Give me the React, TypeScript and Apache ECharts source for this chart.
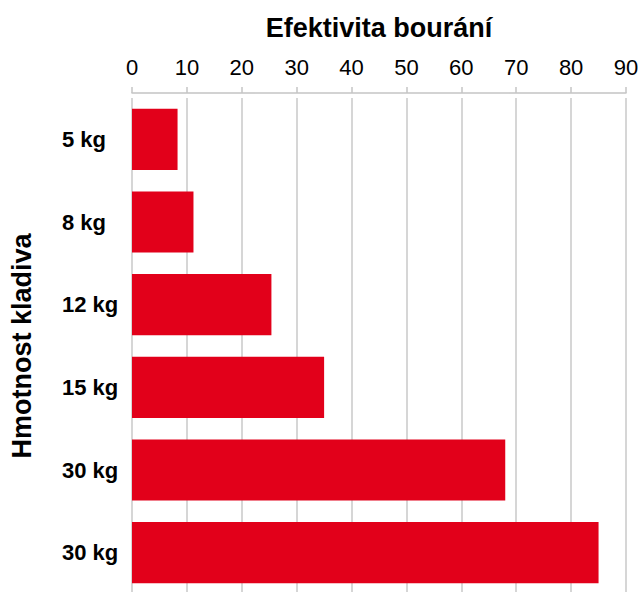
import React, { useEffect, useRef } from "react";
import * as echarts from "echarts";

const categories = ["5 kg", "8 kg", "12 kg", "15 kg", "30 kg", "30 kg"];
const values = [8.3, 11.2, 25.4, 35, 68, 85];
const xTitle = "Efektivita bourání";
const yTitle = "Hmotnost kladiva";

export default function App() {
  const ref = useRef<HTMLDivElement>(null);
  useEffect(() => {
    if (!ref.current) return;
    const chart = echarts.init(ref.current, undefined, { renderer: "svg" });
    const font = "'Liberation Sans', Arial, Helvetica, sans-serif";
    chart.setOption({
      animation: false,
      backgroundColor: "#ffffff",
      grid: {
        left: 132,
        right: 15,
        top: 98,
        height: 496,
        containLabel: false,
        outerBoundsMode: "none",
      },
      xAxis: {
        type: "value",
        position: "top",
        offset: 5,
        min: 0,
        max: 90,
        interval: 10,
        name: xTitle,
        nameLocation: "middle",
        nameGap: 52,
        nameTextStyle: { fontFamily: font, fontWeight: "bold", fontSize: 27, color: "#000" },
        axisLine: { show: true, lineStyle: { color: "#c4c4c4", width: 1.5 } },
        axisTick: { show: true, length: 6, lineStyle: { color: "#c4c4c4", width: 1.5 } },
        axisLabel: { margin: 15, fontFamily: font, fontSize: 22, color: "#000" },
        splitLine: { show: true, lineStyle: { color: "#c8c8c8", width: 1.5 } },
      },
      yAxis: {
        type: "category",
        inverse: true,
        data: categories,
        name: yTitle,
        nameLocation: "middle",
        nameRotate: 90,
        nameGap: 97,
        nameTextStyle: { fontFamily: font, fontWeight: "bold", fontSize: 27, color: "#000" },
        axisLine: { show: false },
        axisTick: { show: false },
        axisLabel: {
          align: "left",
          margin: 70,
          fontFamily: font,
          fontWeight: "bold",
          fontSize: 22,
          color: "#000",
        },
      },
      series: [
        {
          type: "bar",
          data: values,
          barCategoryGap: "26%",
          itemStyle: { color: "#e2001a" },
        },
      ],
    });
    return () => chart.dispose();
  }, []);
  return (
    <div
      ref={ref}
      style={{ position: "fixed", left: 0, top: 0, width: 641, height: 592 }}
    />
  );
}
